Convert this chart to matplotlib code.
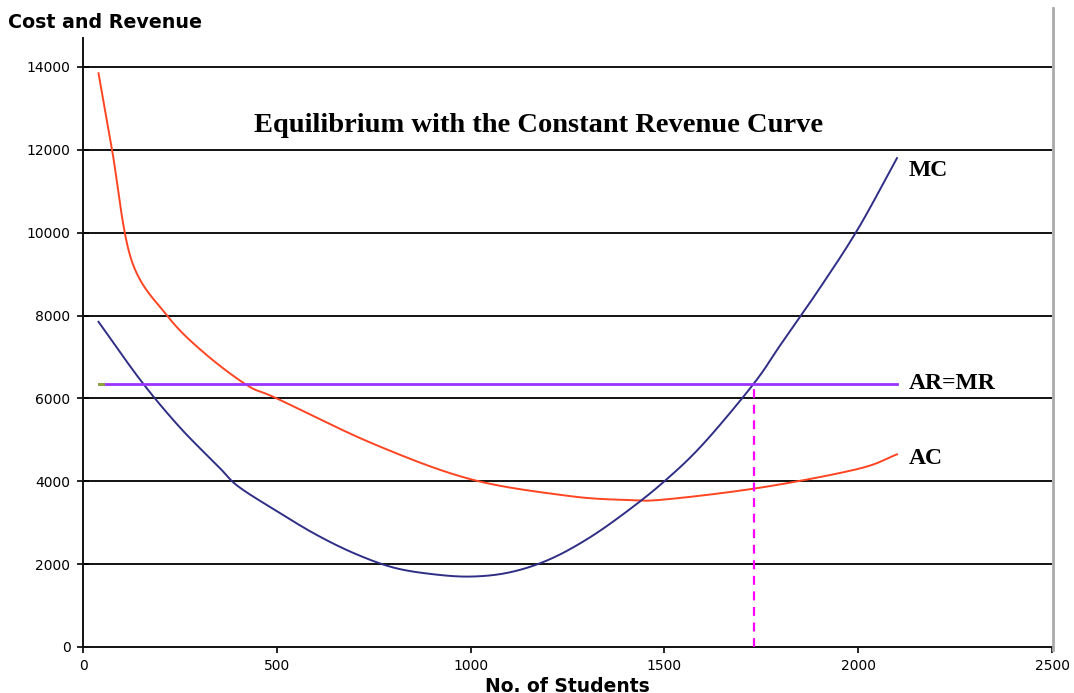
import numpy as np
import matplotlib.pyplot as plt
from matplotlib.lines import Line2D

students_ac = [40, 75, 125, 217, 310, 423, 500, 750, 1000, 1250, 1400, 1500, 1750, 2000, 2100]
ac = [13850, 12000, 9340, 8000, 7120, 6320, 6000, 4900, 4050, 3650, 3550, 3560, 3850, 4300, 4650]

students_mc = [40, 150, 250, 350, 400, 500, 600, 700, 800, 900, 1000, 1100, 1200,
               1300, 1400, 1500, 1600, 1730, 1800, 1900, 2000, 2100]
mc = [7850, 6420, 5300, 4350, 3880, 3280, 2720, 2260, 1920, 1760, 1700, 1800, 2100,
      2600, 3250, 4000, 4900, 6350, 7300, 8650, 10100, 11800]

# Constant price line and equilibrium output
ar_x = [40, 2100]
ar_level = 6350
q_star = 1730


def smooth(xs, ys, n=30):
    # Catmull-Rom curve through the given points (like a smoothed line chart)
    p = np.column_stack([xs, ys]).astype(float)
    p = np.vstack([2 * p[0] - p[1], p, 2 * p[-1] - p[-2]])
    out = []
    t = np.linspace(0, 1, n, endpoint=False)[:, None]
    for i in range(1, len(p) - 2):
        p0, p1, p2, p3 = p[i - 1], p[i], p[i + 1], p[i + 2]
        seg = 0.5 * ((2 * p1) + (-p0 + p2) * t
                     + (2 * p0 - 5 * p1 + 4 * p2 - p3) * t ** 2
                     + (-p0 + 3 * p1 - 3 * p2 + p3) * t ** 3)
        out.append(seg)
    out.append(p[-2][None, :])
    out = np.vstack(out)
    return out[:, 0], out[:, 1]


fig = plt.figure(figsize=(10.74, 6.93), dpi=100)
ax = fig.add_axes([83 / 1074, 1 - 647 / 693, (1052 - 83) / 1074, (647 - 38) / 693])

ax.set_xlim(0, 2500)
ax.set_ylim(0, 14700)
ax.set_xticks(np.arange(0, 2501, 500))
ax.set_yticks(np.arange(0, 14001, 2000))

for y in np.arange(2000, 14001, 2000):
    ax.axhline(y, color='#111111', lw=1.4, zorder=1)

ax.plot(*smooth(students_ac, ac), color='#FF4422', lw=1.4, zorder=3)
ax.plot(*smooth(students_mc, mc), color='#2E2E86', lw=1.4, zorder=3)
ax.plot(ar_x, [ar_level, ar_level], color='#9933FF', lw=2.0, zorder=4)
ax.plot([ar_x[0], ar_x[0] + 12], [ar_level, ar_level], color='#88AA33', lw=2.0, zorder=5)
ax.plot([q_star, q_star], [0, ar_level], color='#FF00FF', lw=1.6,
        ls=(0, (4, 3)), zorder=4)

lab = dict(family='Liberation Serif', fontweight='bold', fontsize=17, va='center')
ax.text(2130, (647 - 170) / 41.43 * 1000, 'MC', **lab)
ax.text(2130, ar_level, 'AR=MR', **lab)
ax.text(2130, (647 - 458) / 41.43 * 1000, 'AC', **lab)
ax.text(1175, 12600, 'Equilibrium with the Constant Revenue Curve',
        family='Liberation Serif', fontweight='bold', fontsize=20.5,
        ha='center', va='center')

for s in ['top', 'right']:
    ax.spines[s].set_visible(False)
for s in ['left', 'bottom']:
    ax.spines[s].set_linewidth(1.4)
    ax.spines[s].set_color('#111111')

ax.tick_params(axis='x', direction='out', length=4, width=1.2,
               labelsize=10, pad=5)
ax.tick_params(axis='y', direction='inout', length=8, width=1.2,
               labelsize=10, pad=5)

# Chart border on the right side
fig.add_artist(Line2D([1053 / 1074, 1053 / 1074], [1 - 8 / 693, 1 - 650 / 693],
                      color='#AAAAAA', lw=2.0))

fig.text(8 / 1074, 1 - 22 / 693, 'Cost and Revenue', family='DejaVu Sans',
         fontweight='bold', fontsize=13.7, va='center', ha='left')
fig.text(567 / 1074, 1 - 687 / 693, 'No. of Students', family='DejaVu Sans',
         fontweight='bold', fontsize=13.5, va='center', ha='center')

fig.savefig('out.png', dpi=100)
